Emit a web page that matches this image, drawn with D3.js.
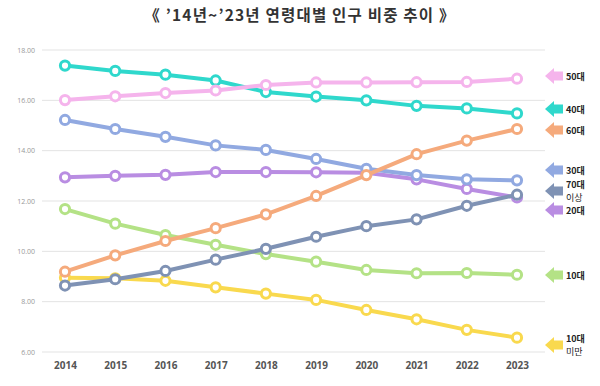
<!DOCTYPE html>
<html><head><meta charset="utf-8">
<script src="https://cdn.jsdelivr.net/npm/d3@7"></script>
<style>body{margin:0;background:#fff}svg{display:block}</style>
</head><body>
<div id="chart"></div>
<script>
const years = ["2014","2015","2016","2017","2018","2019","2020","2021","2022","2023"];
const yTicks = [6, 8, 10, 12, 14, 16, 18];
const title = "《 ’14년~’23년 연령대별 인구 비중 추이 》";

const s0  = [8.95, 8.93, 8.83, 8.57, 8.32, 8.07, 7.67, 7.30, 6.88, 6.57];
const s10 = [11.68, 11.10, 10.65, 10.26, 9.89, 9.59, 9.26, 9.13, 9.14, 9.07];
const s20 = [12.94, 13.00, 13.04, 13.15, 13.15, 13.14, 13.12, 12.86, 12.48, 12.14];
const s30 = [15.22, 14.86, 14.55, 14.21, 14.03, 13.67, 13.28, 13.03, 12.86, 12.82];
const s40 = [17.38, 17.17, 17.02, 16.79, 16.33, 16.15, 16.00, 15.78, 15.68, 15.48];
const s50 = [16.01, 16.16, 16.29, 16.39, 16.61, 16.71, 16.71, 16.72, 16.73, 16.86];
const s60 = [9.19, 9.84, 10.41, 10.92, 11.47, 12.20, 13.03, 13.86, 14.40, 14.86];
const s70 = [8.64, 8.89, 9.22, 9.67, 10.10, 10.58, 11.00, 11.27, 11.81, 12.25];

const seriesNames  = ["10대 미만", "10대", "20대", "30대", "40대", "50대", "60대", "70대 이상"];
const seriesValues = [s0, s10, s20, s30, s40, s50, s60, s70];
const seriesColors = ["#f9d94e", "#b4e286", "#b98de2", "#91a9e1", "#2fd8cc", "#f5b4ec", "#f5aa7c", "#7f92b4"];

const W = 600, H = 386;
const svg = d3.select("#chart").append("svg").attr("width", W).attr("height", H);

const x = d3.scalePoint().domain(years).range([65, 517]);
const y = d3.scaleLinear().domain([6, 18]).range([352, 50]);

// title
svg.append("text").attr("x", 300).attr("y", 21).attr("text-anchor", "middle")
  .attr("font-family", "'Noto Sans CJK KR', sans-serif").attr("font-weight", "bold")
  .attr("font-size", 15.5).attr("letter-spacing", 1.2).attr("fill", "#333").text(title);

// grid
svg.append("g").selectAll("line").data(yTicks).join("line")
  .attr("x1", 42).attr("x2", 545)
  .attr("y1", d => y(d)).attr("y2", d => y(d))
  .attr("stroke", "#e3e3e3").attr("stroke-width", 1);

// y axis
const yAxis = d3.axisLeft(y).tickValues(yTicks).tickFormat(d3.format(".2f")).tickSize(0).tickPadding(0);
const gy = svg.append("g").attr("transform", "translate(35,0)").call(yAxis);
gy.select(".domain").remove();
gy.selectAll("text").attr("font-family", "'Open Sans', sans-serif").attr("font-size", 7).attr("fill", "#999");

// x axis
const xAxis = d3.axisBottom(x).tickSize(0).tickPadding(0);
const gx = svg.append("g").attr("transform", "translate(0,362)").call(xAxis);
gx.select(".domain").remove();
gx.selectAll("text").attr("font-family", "'Open Sans', sans-serif").attr("font-weight", "bold")
  .attr("font-size", 10).attr("fill", "#555");

// lines
const line = d3.line().x((d, i) => x(years[i])).y(d => y(d));
seriesValues.forEach((vals, k) => {
  const g = svg.append("g");
  g.append("path").datum(vals).attr("d", line).attr("fill", "none")
    .attr("stroke", seriesColors[k]).attr("stroke-width", 4).attr("stroke-linejoin", "round");
  g.selectAll("circle").data(vals).join("circle")
    .attr("cx", (d, i) => x(years[i])).attr("cy", d => y(d)).attr("r", 4.6)
    .attr("fill", "#fff").attr("stroke", seriesColors[k]).attr("stroke-width", 3);
});

// legend (arrow + label), layout order top to bottom
const legendLayout = [
  {k: 5, cy: 76}, {k: 4, cy: 109}, {k: 6, cy: 130}, {k: 3, cy: 170},
  {k: 7, cy: 191}, {k: 2, cy: 210}, {k: 1, cy: 275}, {k: 0, cy: 345}
];
legendLayout.forEach(({k, cy}) => {
  const g = svg.append("g").attr("transform", `translate(545,${cy})`);
  g.append("path")
    .attr("d", "M0,0 L9,-8 L9,-4.5 L18,-4.5 L18,4.5 L9,4.5 L9,8 Z")
    .attr("fill", seriesColors[k]);
  const parts = seriesNames[k].split(" ");
  const font = t => t.attr("font-family", "'Noto Sans CJK KR', sans-serif")
    .attr("font-size", 9).attr("fill", "#222");
  if (parts.length === 1) {
    font(g.append("text")).attr("x", 21).attr("y", 3.5).attr("font-weight", "bold").text(parts[0]);
  } else {
    font(g.append("text")).attr("x", 21).attr("y", -3.5).attr("font-weight", "bold").text(parts[0]);
    font(g.append("text")).attr("x", 21).attr("y", 9.5).text(parts[1]);
  }
});
</script>
</body></html>
